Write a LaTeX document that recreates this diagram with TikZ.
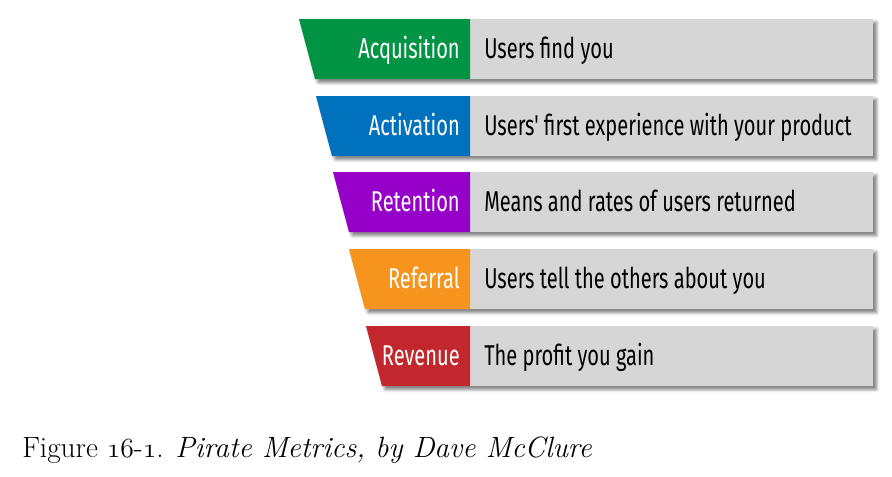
\documentclass[tikz,border=0pt]{standalone}
\usepackage{fontspec}
\newfontfamily\barfont[FakeStretch=0.70]{Fira Sans}
\usetikzlibrary{shadows.blur}
\definecolor{acqGreen}{RGB}{0,148,68}
\definecolor{actBlue}{RGB}{0,113,188}
\definecolor{retPurple}{RGB}{150,0,200}
\definecolor{refOrange}{RGB}{247,148,30}
\definecolor{revRed}{RGB}{193,39,45}
\definecolor{barGrey}{RGB}{214,214,214}
\tikzset{
  bar/.style={fill=barGrey, blur shadow={shadow xshift=2.5pt, shadow yshift=-2.5pt, shadow blur radius=2.5pt, shadow opacity=55}},
  stage/.style={font=\barfont\fontsize{21.5}{24}\selectfont, text=white, anchor=base east, inner sep=0pt},
  desc/.style={font=\barfont\fontsize{21.5}{24}\selectfont, text=black, anchor=base west, inner sep=0pt},
  caption/.style={font=\fontsize{22}{26}\selectfont, anchor=base west, inner sep=0pt}
}

\begin{document}
\begin{tikzpicture}[x=0.75pt,y=-0.75pt]
      \useasboundingbox (0,0) rectangle (892,476);

      % Acquisition
      \fill[bar] (299,19) -- (873,19) -- (873,79) -- (315,79) -- cycle;
      \fill[acqGreen] (299,19) -- (470,19) -- (470,79) -- (315,79) -- cycle;
      \node[stage] (acquisition) at (460,58) {Acquisition};
      \node[desc] (acquisitionText) at (484,58) {Users find you};

      % Activation
      \fill[bar] (316,96) -- (873,96) -- (873,156) -- (332,156) -- cycle;
      \fill[actBlue] (316,96) -- (470,96) -- (470,156) -- (332,156) -- cycle;
      \node[stage] (activation) at (460,135) {Activation};
      \node[desc] (activationText) at (484,135) {Users' first experience with your product};

      % Retention
      \fill[bar] (333,172) -- (873,172) -- (873,232) -- (349,232) -- cycle;
      \fill[retPurple] (333,172) -- (470,172) -- (470,232) -- (349,232) -- cycle;
      \node[stage] (retention) at (460,211) {Retention};
      \node[desc] (retentionText) at (484,211) {Means and rates of users returned};

      % Referral
      \fill[bar] (349,249) -- (873,249) -- (873,309) -- (365,309) -- cycle;
      \fill[refOrange] (349,249) -- (470,249) -- (470,309) -- (365,309) -- cycle;
      \node[stage] (referral) at (460,288) {Referral};
      \node[desc] (referralText) at (484,288) {Users tell the others about you};

      % Revenue
      \fill[bar] (366,326) -- (873,326) -- (873,386) -- (382,386) -- cycle;
      \fill[revRed] (366,326) -- (470,326) -- (470,386) -- (382,386) -- cycle;
      \node[stage] (revenue) at (460,365) {Revenue};
      \node[desc] (revenueText) at (484,365) {The profit you gain};

      \node[caption] (figCaption) at (22,457) {Figure $\mathnormal{16}$-$\mathnormal{1}$. \textit{Pirate Metrics, by Dave McClure}};
    \end{tikzpicture}
\end{document}
